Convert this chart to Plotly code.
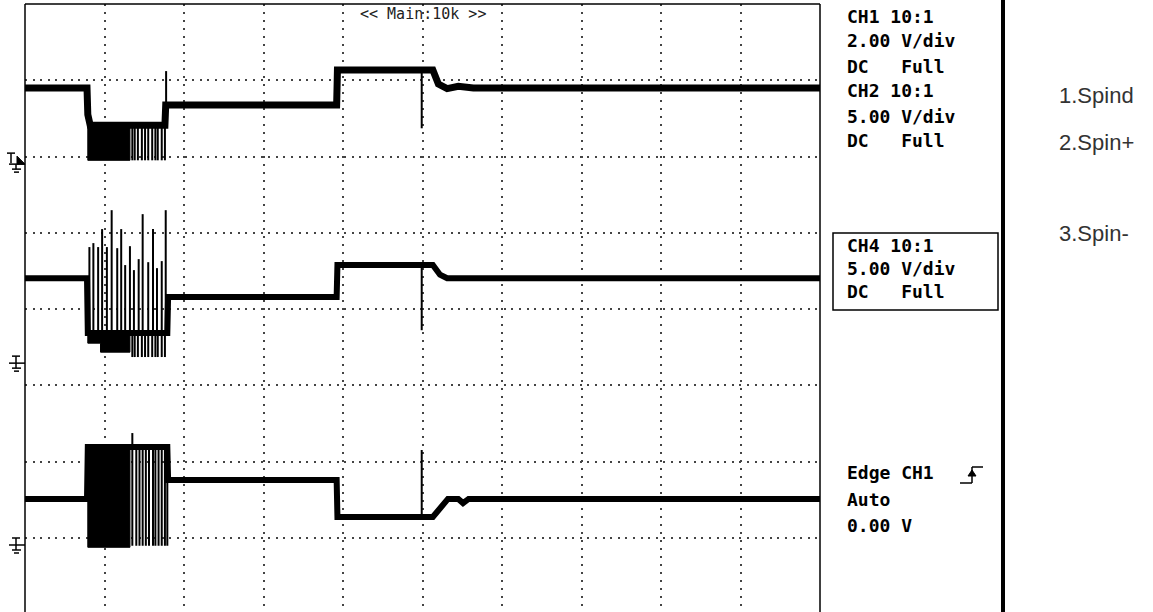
import plotly.graph_objects as go

# ---------------- data: time in divisions (10 div), voltage in volts ----------------
# Channel scale (V/div) and ground level (div from bottom of screen)
ch1_scale, ch2_scale, ch3_scale = 2.0, 5.0, 5.0
ch1_gnd, ch2_gnd, ch3_gnd = 5.90, 3.29, 0.905

# CH1 main trace
ch1_t = [0.00, 0.78, 0.79, 0.82, 1.76, 1.77, 1.80, 3.92, 3.93, 5.13, 5.20, 5.25, 5.31, 5.45, 5.64, 10.00]
ch1_v = [2.00, 2.00, 1.30, 1.02, 1.02, 1.55, 1.55, 1.55, 2.47, 2.47, 2.10, 2.03, 1.98, 2.04, 2.00, 2.00]
ch1_dense_t = [0.79, 1.32]
ch1_dense_v = [1.02, 0.10]
ch1_pulse_t = [1.35, 1.38, 1.42, 1.47, 1.51, 1.55, 1.60, 1.64, 1.67, 1.72, 1.76]
ch1_pulse_v = [1.02, 0.10]
ch1_spike_t = [1.775, 4.99]
ch1_spike_base = [1.55, 2.47]
ch1_spike_peak = [2.44, 0.94]

# CH2 main trace
ch2_t = [0.00, 0.78, 0.79, 1.79, 1.80, 3.92, 3.93, 5.13, 5.22, 5.31, 10.00]
ch2_v = [5.57, 5.57, 1.97, 1.97, 4.33, 4.33, 6.43, 6.43, 5.80, 5.57, 5.57]
ch2_up_t = [0.81, 0.86, 0.92, 0.97, 1.03, 1.09, 1.16, 1.21, 1.26, 1.32, 1.37, 1.43, 1.48, 1.55, 1.61, 1.66, 1.72, 1.77]
ch2_up_v = [7.61, 7.87, 7.61, 8.79, 7.61, 10.03, 7.54, 8.79, 6.43, 7.67, 6.10, 6.82, 9.77, 6.62, 8.79, 6.23, 6.69, 10.03]
ch2_base_v = 1.97
ch2_low_t = [0.79, 0.95, 0.95, 1.32]
ch2_low_v = [1.31, 1.31, 0.72, 0.72]
ch2_down_t = [1.35, 1.38, 1.42, 1.47, 1.51, 1.55, 1.60, 1.64, 1.67, 1.72, 1.76]
ch2_down_v = 0.40
ch2_spike_t = [4.99]
ch2_spike_base = [6.43]
ch2_spike_peak = [2.16]

# CH4 (third trace)
ch3_t = [0.00, 0.78, 0.79, 1.79, 1.80, 3.92, 3.93, 5.13, 5.32, 5.45, 5.51, 5.58, 10.00]
ch3_v = [3.02, 3.02, 6.43, 6.43, 4.26, 4.26, 1.84, 1.84, 3.02, 3.02, 2.75, 3.02, 3.02]
ch3_dense_t = [0.79, 1.32]
ch3_dense_v = [6.43, -0.15]
ch3_pulse_t = [1.35, 1.40, 1.44, 1.48, 1.52, 1.56, 1.61, 1.64, 1.68, 1.72, 1.76, 1.79]
ch3_pulse_v = [6.43, -0.05]
ch3_spike_t = [1.35, 4.99]
ch3_spike_base = [6.43, 1.84]
ch3_spike_peak = [7.34, 6.23]

info_lines = ["CH1 10:1", "2.00 V/div", "DC   Full", "CH2 10:1", "5.00 V/div", "DC   Full"]
box_lines = ["CH4 10:1", "5.00 V/div", "DC   Full"]
trig_lines = ["Edge CH1", "Auto", "0.00 V"]
signal_names = ["1.Spind", "2.Spin+", "3.Spin-"]
timebase_label = "<< Main:10k >>"

# ---------------- helpers ----------------
W, H = 1153, 612
L, R, T = 25, 820, 4


def X(px):
    return (px - L) / (R - L)


def Y(py):
    return (H - py) / (H - T)


def scr(v, scale, gnd):
    return [gnd + a / scale for a in v]


fig = go.Figure()
BLACK = "#000000"


def add_line(t, v, width):
    fig.add_trace(go.Scatter(x=t, y=v, mode="lines", line=dict(color=BLACK, width=width),
                             hoverinfo="skip", showlegend=False))


def add_fill(t0, t1, hi, lo):
    fig.add_trace(go.Scatter(x=[t0, t1, t1, t0, t0], y=[hi, hi, lo, lo, hi], mode="lines",
                             fill="toself", fillcolor=BLACK, line=dict(color=BLACK, width=1),
                             hoverinfo="skip", showlegend=False))


def add_verticals(ts, a, b, width):
    xs, ys = [], []
    for i, t in enumerate(ts):
        aa = a[i] if isinstance(a, list) else a
        bb = b[i] if isinstance(b, list) else b
        xs += [t, t, None]
        ys += [aa, bb, None]
    add_line(xs, ys, width)


# CH1
add_line(ch1_t, scr(ch1_v, ch1_scale, ch1_gnd), 7)
d = scr(ch1_dense_v, ch1_scale, ch1_gnd)
add_fill(ch1_dense_t[0], ch1_dense_t[1], d[0], d[1])
p = scr(ch1_pulse_v, ch1_scale, ch1_gnd)
add_verticals(ch1_pulse_t, p[0], p[1], 2)
add_verticals(ch1_spike_t, scr(ch1_spike_base, ch1_scale, ch1_gnd), scr(ch1_spike_peak, ch1_scale, ch1_gnd), 2)

# CH2
add_line(ch2_t, scr(ch2_v, ch2_scale, ch2_gnd), 6)
base2 = ch2_gnd + ch2_base_v / ch2_scale
add_verticals(ch2_up_t, base2, scr(ch2_up_v, ch2_scale, ch2_gnd), 2)
low2 = scr(ch2_low_v, ch2_scale, ch2_gnd)
fig.add_trace(go.Scatter(x=ch2_low_t + ch2_low_t[::-1] + [ch2_low_t[0]],
                         y=low2 + [base2] * len(low2) + [low2[0]], mode="lines", fill="toself",
                         fillcolor=BLACK, line=dict(color=BLACK, width=1), hoverinfo="skip", showlegend=False))
add_verticals(ch2_down_t, base2, ch2_gnd + ch2_down_v / ch2_scale, 2)
add_verticals(ch2_spike_t, scr(ch2_spike_base, ch2_scale, ch2_gnd), scr(ch2_spike_peak, ch2_scale, ch2_gnd), 2)

# CH4
add_line(ch3_t, scr(ch3_v, ch3_scale, ch3_gnd), 6)
d = scr(ch3_dense_v, ch3_scale, ch3_gnd)
add_fill(ch3_dense_t[0], ch3_dense_t[1], d[0], d[1])
p = scr(ch3_pulse_v, ch3_scale, ch3_gnd)
add_verticals(ch3_pulse_t, p[0], p[1], 2)
add_verticals(ch3_spike_t, scr(ch3_spike_base, ch3_scale, ch3_gnd), scr(ch3_spike_peak, ch3_scale, ch3_gnd), 2)

# ---------------- decorations ----------------
shapes = []


def seg(x0, y0, x1, y1, w=1.5, color=BLACK):
    shapes.append(dict(type="line", xref="paper", yref="paper", x0=X(x0), y0=Y(y0), x1=X(x1), y1=Y(y1),
                       line=dict(color=color, width=w), layer="above"))


# screen border (top, left, right)
seg(L, T, R, T, 1.5)
seg(L, T, L, H + 2, 1.5)
seg(R, T, R, H + 2, 1.5)
# thick separator
seg(1003, -2, 1003, H + 2, 4)
# CH4 box
shapes.append(dict(type="rect", xref="paper", yref="paper", x0=X(833), x1=X(998), y0=Y(310), y1=Y(233),
                   line=dict(color=BLACK, width=1.5)))
# trigger edge symbol
seg(960, 483, 972, 483, 1.5)
seg(972, 483, 972, 467, 1.5)
seg(972, 467, 983, 467, 1.5)
shapes.append(dict(type="path", xref="paper", yref="paper",
                   path=f"M {X(968)} {Y(476)} L {X(976)} {Y(476)} L {X(972)} {Y(470)} Z",
                   fillcolor=BLACK, line=dict(color=BLACK, width=1)))


def ground_marker(g, with_top=True):
    if with_top:
        seg(12, g - 7, 20, g - 7, 1.5)
        seg(16, g - 7, 16, g, 1.5)
    seg(9, g, 25, g, 1.5)
    seg(16, g, 16, g + 5, 1.5)
    seg(12, g + 5, 21, g + 5, 1.5)
    seg(14, g + 8, 19, g + 8, 1.5)


def gpx(gdiv):
    return T + (8 - gdiv) * 76.25


ground_marker(gpx(ch1_gnd), with_top=False)
ground_marker(gpx(ch2_gnd))
ground_marker(gpx(ch3_gnd))
# trigger level "T" marker with arrow
g1 = gpx(ch1_gnd)
seg(7, g1 - 11, 15, g1 - 11, 1.5)
seg(11, g1 - 11, 11, g1 - 1, 1.5)
shapes.append(dict(type="path", xref="paper", yref="paper",
                   path=f"M {X(17)} {Y(g1 - 8)} L {X(17)} {Y(g1)} L {X(25)} {Y(g1)} Z",
                   fillcolor=BLACK, line=dict(color=BLACK, width=1)))

annotations = []
MONO = "DejaVu Sans Mono"


def text(s, x, y, size, family=MONO, bold=True, color=BLACK, xanchor="left"):
    annotations.append(dict(text=f"<b>{s}</b>" if bold else s, xref="paper", yref="paper",
                            x=X(x), y=Y(y), xanchor=xanchor, yanchor="middle", showarrow=False,
                            font=dict(family=family, size=size, color=color)))


for i, s in enumerate(info_lines):
    text(s.replace(" ", "&nbsp;"), 845, 16 + 25 * i, 18)
for i, s in enumerate(box_lines):
    text(s.replace(" ", "&nbsp;"), 845, 245 + 23 * i, 18)
for i, s in enumerate(trig_lines):
    text(s.replace(" ", "&nbsp;"), 845, 473 + 26 * i, 18)
for i, s in enumerate(signal_names):
    text(s, 1057, [95, 143, 233][i], 22, family="Liberation Sans", bold=False, color="#333333")
text(timebase_label.replace(" ", "&nbsp;"), (L + R) / 2, 14, 15, bold=False, color="#222222", xanchor="center")

fig.update_layout(
    width=W, height=H,
    margin=dict(l=L, r=W - R, t=T, b=0, pad=0),
    plot_bgcolor="white", paper_bgcolor="white",
    shapes=shapes, annotations=annotations,
    xaxis=dict(range=[0, 10], dtick=1, showgrid=True, gridcolor="#444444", gridwidth=1.5,
               griddash="2px,6px", zeroline=False, showticklabels=False, ticks="", showline=False,
               fixedrange=True),
    yaxis=dict(range=[8 - (H - T) / 76.25, 8], dtick=1, tick0=0, showgrid=True, gridcolor="#444444",
               gridwidth=1.5, griddash="2px,5.6px", zeroline=False, showticklabels=False, ticks="",
               showline=False, fixedrange=True),
)

fig.write_html("out.html", config={"displayModeBar": False},
               post_script="document.body.style.margin='0';document.body.style.overflow='hidden';")
